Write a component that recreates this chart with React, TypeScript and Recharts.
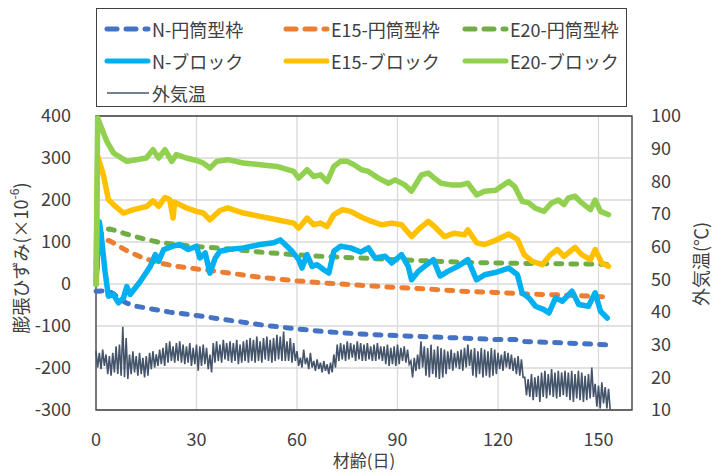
import React from "react";
import { LineChart, Line, XAxis, YAxis, CartesianGrid, ReferenceArea, Label } from "recharts";

const FONT = '"Noto Sans CJK JP", "Noto Sans", sans-serif';
const TEXT = "#404040";

const xTicks = [0, 30, 60, 90, 120, 150];
const strainTicks = [-300, -200, -100, 0, 100, 200, 300, 400];
const tempTicks = [10, 20, 30, 40, 50, 60, 70, 80, 90, 100];

// 円筒型枠 (smooth dashed curves)
const nFormDays = [0, 3, 5, 7, 9, 12, 17, 22, 30, 36, 43, 50, 60, 68, 73, 81, 90, 100, 110, 119, 125, 128, 135, 145, 153];
const nFormValues = [-17, -16, -22, -35, -45, -53, -60, -67, -75, -82, -90, -98, -107, -113, -116, -120, -123, -126, -129, -132, -132, -137, -139, -142, -145];

const e15FormDays = [0, 1, 2.5, 4, 6.5, 9, 14, 19, 24, 29, 39, 49, 59, 69, 79, 89, 99, 109, 119, 129, 139, 153];
const e15FormValues = [50, 95, 106, 103, 92, 80, 62, 50, 42, 37, 27, 16, 8, 2, -3, -8, -12, -17, -20, -24, -26, -31];

const e20FormDays = [0, 1, 2.2, 4, 6, 9, 14, 19, 24, 29, 39, 49, 59, 69, 79, 89, 99, 109, 119, 129, 139, 153];
const e20FormValues = [0, 110, 128, 131, 127, 119, 108, 99, 94, 90, 84, 76, 70, 65, 62, 58, 55, 52, 50, 49, 48, 47];

// ブロック (measured, jagged)
const nBlockDays = [0, 1, 1.5, 2.7, 3.7, 5.2, 6.7, 8.2, 9.2, 10.2, 13.2, 16.2, 17.7, 18.7, 20.2, 23, 25, 27.6, 30, 31, 32.6, 34, 35.6, 37, 39.5, 44, 49, 53, 55, 57, 58.5, 60.5, 61.5, 63, 64.5, 66, 68, 69.5, 71, 73, 76, 79, 81.3, 83.3, 86.3, 88.3, 91.2, 93.2, 94.2, 96.2, 98.7, 100.7, 102.7, 105, 108, 111, 113.6, 116, 119.5, 123.2, 125.8, 127.2, 129.2, 131.2, 133.7, 135.2, 137.2, 139.2, 142.1, 144.1, 147, 149, 150.6, 152.6];
const nBlockValues = [0, 148, 120, 30, -29, -25, -45, -33, -6, -25, 6, 42, 70, 54, 82, 90, 94, 82, 90, 62, 74, 26, 62, 78, 82, 86, 94, 98, 105, 90, 78, 58, 38, 70, 42, 46, 34, 26, 78, 90, 86, 76, 86, 62, 66, 50, 70, 42, 10, 30, 46, 58, 19, 30, 42, 58, 10, 22, 28, 38, 22, -21, -33, -53, -61, -69, -33, -41, -17, -49, -53, -21, -65, -81];

const e15BlockDays = [0, 0.5, 2.2, 3.7, 5.2, 8.2, 11.2, 15.2, 17, 18.7, 20.6, 22, 23, 23.5, 27, 30, 32, 34, 37, 39.3, 44, 49, 54, 59, 60.5, 63, 65, 67, 69, 71, 73.6, 76, 79.3, 82.3, 85.3, 88.3, 91.2, 94.2, 96.7, 99.2, 101, 104, 107, 110, 111, 113.6, 116, 119.3, 123.2, 125.8, 127.8, 130.2, 133.2, 135.7, 137.7, 139.7, 143, 145, 147.6, 149, 151, 153];
const e15BlockValues = [0, 304, 260, 201, 189, 169, 177, 185, 198, 185, 206, 201, 157, 195, 181, 173, 169, 153, 175, 181, 169, 161, 153, 145, 133, 157, 141, 145, 137, 165, 177, 173, 159, 149, 141, 145, 141, 113, 133, 149, 137, 113, 121, 117, 129, 98, 94, 104, 119, 106, 70, 54, 46, 70, 82, 66, 87, 70, 58, 82, 50, 42];

const e20BlockDays = [0, 0.5, 3.2, 5.2, 9.2, 12, 15, 17, 18.7, 20.6, 22.6, 24, 27, 30, 32, 34, 36, 39.3, 44, 49, 54, 59, 60.5, 63, 65, 67, 69, 71, 73, 75, 77, 79.3, 81.3, 84.3, 87.3, 89.3, 92.2, 94.2, 97.2, 99.2, 101, 103, 106, 109, 111, 113.6, 116, 119.3, 123.2, 125, 127.2, 129.2, 131, 133.7, 136, 138, 139.7, 141, 143, 145, 147.6, 149, 150.6, 153];
const e20BlockValues = [0, 395, 340, 312, 292, 296, 300, 320, 300, 320, 292, 308, 300, 294, 288, 276, 292, 296, 288, 284, 280, 268, 252, 272, 256, 260, 244, 280, 292, 292, 284, 272, 268, 252, 240, 248, 236, 221, 260, 264, 252, 240, 236, 236, 240, 212, 221, 223, 244, 232, 197, 193, 181, 173, 193, 200, 189, 205, 209, 193, 177, 200, 173, 165];

// 外気温: daily high / low (days 0..153)
const tempHigh = [
  28, 27.5, 28.5, 27, 26.5, 27.5, 29.5, 30, 35.5, 32,
  27, 28, 26.5, 27.5, 26, 26.5, 27.5, 28, 27, 28.5,
  29, 30.5, 31, 29.5, 30.5, 31, 30, 29.5, 30.5, 29,
  30, 29.5, 30, 29, 27, 30.5, 31, 30, 31.5, 30.5,
  31, 30.5, 31.5, 30, 31, 31.5, 32, 31.5, 32.5, 31,
  32, 32.5, 31.5, 32, 33, 32.5, 34, 31, 32, 30.5,
  28, 26, 28.5, 26, 27.5, 25, 25.5, 24.5, 25, 24,
  24.5, 27, 30, 30.5, 30, 31, 30.5, 30, 31, 30.5,
  30, 30.5, 29.5, 30, 30.5, 29.5, 29.5, 30, 29, 29.5,
  30, 29, 29.5, 28.5, 25, 26, 27, 31, 29.5, 29,
  30, 28.5, 29.5, 29, 28.5, 28, 28.5, 27.5, 28, 28.5,
  29, 30, 28.5, 29, 28, 29, 28.5, 28, 29, 28.5,
  27.5, 27, 28, 27.5, 27, 26, 26.5, 25.5, 20, 19.5,
  21, 20, 20.5, 21.5, 22, 21, 22.5, 21.5, 22, 21.5,
  22, 21.5, 22, 21, 22, 21.5, 20.5, 21, 23, 18,
  17.5, 18.5, 17, 16.5,
];
const tempLow = [
  23, 22.5, 23.5, 21, 20.5, 21.5, 21, 20.5, 20, 19.5,
  21, 21.5, 20.5, 21, 20, 20.5, 22.5, 23, 23.5, 24,
  23.5, 24.5, 25, 24.5, 25, 24.5, 24, 24.5, 23.5, 24,
  22, 23.5, 24, 22.5, 21.5, 24.5, 25, 24.5, 25.5, 25,
  24.5, 25, 24, 24.5, 25, 24.5, 25, 24.5, 25, 24.5,
  25.5, 25, 24.5, 25, 25.5, 25, 25, 25, 24.5, 25,
  23.5, 23, 24, 22.5, 23, 22, 22.5, 21.5, 22, 21,
  21.5, 23, 25, 25.5, 25, 25.5, 26, 25, 25.5, 25,
  25, 25.5, 25, 25, 25.5, 25, 24, 23.5, 24, 23.5,
  24, 25, 24.5, 24, 20, 22, 22.5, 23, 20.5, 20,
  21, 20, 19.5, 20, 21, 22.5, 22, 23, 22.5, 22,
  23, 23.5, 20.5, 20, 21, 20, 20.5, 20, 20.5, 21,
  22.5, 22, 23, 22.5, 22, 21, 20.5, 20, 14.5, 14,
  13, 14, 12.5, 14, 13.5, 14.5, 14, 13.5, 14, 14.5,
  14, 13, 12.5, 13.5, 13, 12.5, 13, 13.5, 14, 11,
  10.5, 12, 10.5, 10,
];

const toPoints = (days: number[], values: number[]) => days.map((d, i) => ({ d, v: values[i] }));

const tempPoints: { d: number; t: number }[] = [];
tempHigh.forEach((hi, i) => {
  tempPoints.push({ d: i, t: hi });
  tempPoints.push({ d: i + 0.5, t: tempLow[i] });
});

type Series = { name: string; color: string; dashed: boolean; data: { d: number; v: number }[] };

const series: Series[] = [
  { name: "N-円筒型枠", color: "#4472C4", dashed: true, data: toPoints(nFormDays, nFormValues) },
  { name: "E15-円筒型枠", color: "#ED7D31", dashed: true, data: toPoints(e15FormDays, e15FormValues) },
  { name: "E20-円筒型枠", color: "#70AD47", dashed: true, data: toPoints(e20FormDays, e20FormValues) },
  { name: "N-ブロック", color: "#00B0F0", dashed: false, data: toPoints(nBlockDays, nBlockValues) },
  { name: "E15-ブロック", color: "#FFC000", dashed: false, data: toPoints(e15BlockDays, e15BlockValues) },
  { name: "E20-ブロック", color: "#92D050", dashed: false, data: toPoints(e20BlockDays, e20BlockValues) },
];
const TEMP_COLOR = "#44546A";

function LegendIcon({ color, kind }: { color: string; kind: "dash" | "solid" | "thin" }) {
  return (
    <svg width={48} height={12} style={{ display: "block" }}>
      <line
        x1={3}
        x2={kind === "thin" ? 45 : 44}
        y1={6}
        y2={6}
        stroke={color}
        strokeWidth={kind === "thin" ? 1.5 : 5}
        strokeLinecap={kind === "thin" ? "butt" : "round"}
        strokeDasharray={kind === "dash" ? "10 9" : undefined}
      />
    </svg>
  );
}

function ChartLegend() {
  const items = [
    ...series.map((s) => ({ name: s.name, color: s.color, kind: (s.dashed ? "dash" : "solid") as "dash" | "solid" | "thin" })),
    { name: "外気温", color: TEMP_COLOR, kind: "thin" as const },
  ];
  return (
    <div
      style={{
        position: "absolute",
        left: 96,
        top: 8,
        width: 531,
        height: 99,
        border: "1.3px solid #404040",
        boxSizing: "border-box",
        fontFamily: FONT,
        fontSize: 18,
        color: TEXT,
      }}
    >
      {items.map((it, i) => (
        <div
          key={it.name}
          style={{
            position: "absolute",
            left: 7 + (i % 3) * 179,
            top: 7 + Math.floor(i / 3) * 32,
            height: 26,
            display: "flex",
            alignItems: "center",
            whiteSpace: "nowrap",
          }}
        >
          <LegendIcon color={it.color} kind={it.kind} />
          <span>{it.name}</span>
        </div>
      ))}
    </div>
  );
}

const LeftTitle = () => (
  <text x={20} y={258} transform="rotate(-90 20 258)" textAnchor="middle" dominantBaseline="central" fill={TEXT} fontSize={18} fontFamily={FONT}>
    膨張ひずみ(×10
    <tspan dy={-7} fontSize={12}>-6</tspan>
    <tspan dy={7}>)</tspan>
  </text>
);

const RightTitle = () => (
  <text x={700} y={264} transform="rotate(-90 700 264)" textAnchor="middle" dominantBaseline="central" fill={TEXT} fontSize={18} fontFamily={FONT}>
    外気温(℃)
  </text>
);

const BottomTitle = () => (
  <text x={364} y={459} textAnchor="middle" dominantBaseline="central" fill={TEXT} fontSize={17} fontFamily={FONT}>
    材齢(日)
  </text>
);

export default function App() {
  const tick = { fontSize: 18, fill: TEXT, fontFamily: FONT };
  return (
    <div style={{ position: "absolute", left: 0, top: 0, width: 723, height: 472, background: "#fff" }}>
      <LineChart width={723} height={472} margin={{ top: 116, right: 0, bottom: 0, left: 0 }}>
        <CartesianGrid yAxisId="left" stroke="#D9D9D9" strokeWidth={1.3} />
        <XAxis
          dataKey="d"
          type="number"
          domain={[0, 160]}
          ticks={xTicks}
          height={62}
          tick={tick}
          tickSize={0}
          tickMargin={23}
          axisLine={false}
          tickLine={false}
          allowDuplicatedCategory={false}
        >
          <Label content={BottomTitle} />
        </XAxis>
        <YAxis
          yAxisId="left"
          domain={[-300, 400]}
          ticks={strainTicks}
          width={96}
          tick={tick}
          tickSize={0}
          tickMargin={25}
          axisLine={false}
          tickLine={false}
        >
          <Label content={LeftTitle} />
        </YAxis>
        <YAxis
          yAxisId="right"
          orientation="right"
          domain={[10, 100]}
          ticks={tempTicks}
          width={91}
          tick={tick}
          tickSize={0}
          tickMargin={19}
          axisLine={false}
          tickLine={false}
        >
          <Label content={RightTitle} />
        </YAxis>
        {series.map((s) => (
          <Line
            key={s.name}
            yAxisId="left"
            data={s.data}
            dataKey="v"
            name={s.name}
            type="linear"
            stroke={s.color}
            strokeWidth={s.dashed ? 5 : 5.5}
            strokeDasharray={s.dashed ? "6 9" : undefined}
            strokeLinecap="round"
            strokeLinejoin="round"
            dot={false}
            activeDot={false}
            isAnimationActive={false}
          />
        ))}
        <Line
          yAxisId="right"
          data={tempPoints}
          dataKey="t"
          name="外気温"
          type="linear"
          stroke={TEMP_COLOR}
          strokeWidth={1.6}
          dot={false}
          activeDot={false}
          isAnimationActive={false}
        />
        <ReferenceArea yAxisId="left" x1={0} x2={160} y1={-300} y2={400} fill="none" stroke="#404040" strokeWidth={1.3} />
      </LineChart>
      <ChartLegend />
    </div>
  );
}
